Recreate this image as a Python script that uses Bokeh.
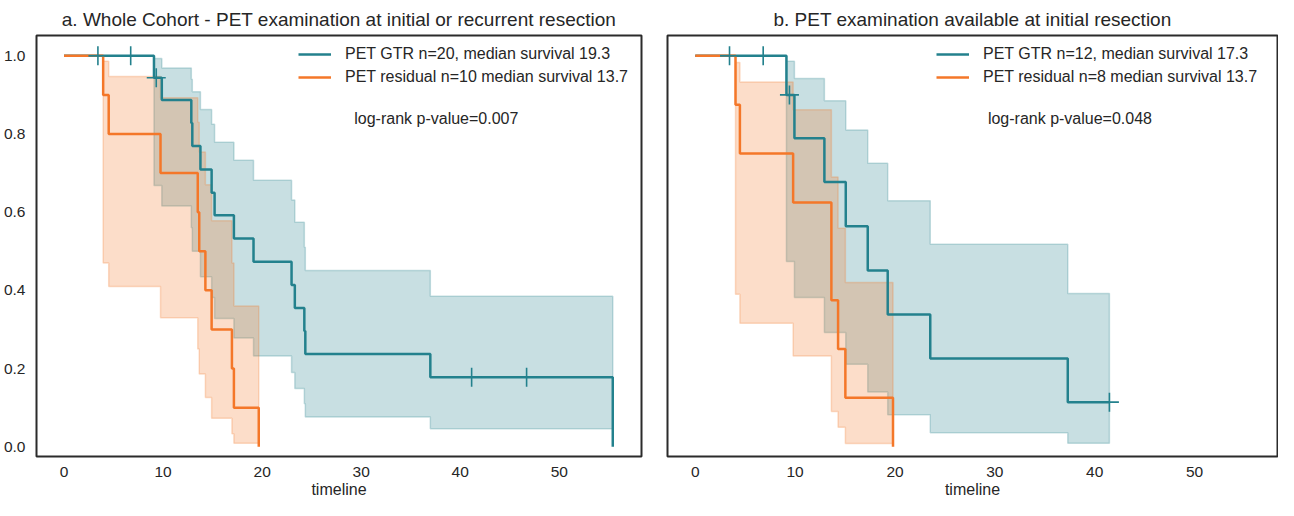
from bokeh.plotting import figure
from bokeh.models import Range1d, FixedTicker, PrintfTickFormatter, Legend, LegendItem, Label
from bokeh.layouts import row
from bokeh.embed import file_html
from bokeh.resources import INLINE

FONT = "Liberation Sans"
TEAL = "#23818d"
ORANGE = "#f47729"
TXT = "#262626"

# ---------------- data ----------------
titles = ["a. Whole Cohort - PET examination at initial or recurrent resection",
          "b. PET examination available at initial resection"]
pvalues = ["log-rank p-value=0.007", "log-rank p-value=0.048"]
x_ticks = [0, 10, 20, 30, 40, 50]
y_ticks = [0.0, 0.2, 0.4, 0.6, 0.8, 1.0]

# Panel a - PET GTR
a_gtr_label = "PET GTR n=20, median survival 19.3"
a_gtr_t = [0, 9.08, 9.87, 12.85, 12.95, 13.77, 14.9, 15.2, 17.15, 19.13, 22.97, 23.3, 24.26, 24.36, 36.98, 55.4]
a_gtr_s = [1.0, 0.944, 0.887, 0.828, 0.769, 0.709, 0.65, 0.592, 0.533, 0.473, 0.414, 0.355, 0.296, 0.237, 0.178, 0.0]
a_gtr_up = [1.0, 0.993, 0.969, 0.94, 0.908, 0.863, 0.825, 0.779, 0.733, 0.682, 0.631, 0.574, 0.51, 0.451, 0.385, 0.385]
a_gtr_lo = [1.0, 0.668, 0.616, 0.56, 0.5, 0.435, 0.382, 0.328, 0.278, 0.232, 0.19, 0.149, 0.11, 0.076, 0.046, 0.046]
a_gtr_cens_t = [3.42, 6.73, 9.31, 41.15, 46.7]
a_gtr_cens_s = [1.0, 1.0, 0.944, 0.178, 0.178]

# Panel a - PET residual
a_res_label = "PET residual n=10 median survival 13.7"
a_res_t = [0, 3.95, 4.51, 9.74, 13.5, 13.65, 14.27, 14.9, 16.95, 17.15, 19.66]
a_res_s = [1.0, 0.9, 0.8, 0.7, 0.6, 0.5, 0.4, 0.3, 0.2, 0.1, 0.0]
a_res_up = [1.0, 0.986, 0.947, 0.893, 0.83, 0.754, 0.67, 0.578, 0.47, 0.36, 0.36]
a_res_lo = [1.0, 0.47, 0.41, 0.33, 0.25, 0.186, 0.126, 0.073, 0.033, 0.009, 0.009]

# Panel b - PET GTR
b_gtr_label = "PET GTR n=12, median survival 17.3"
b_gtr_t = [0, 9.13, 9.93, 12.93, 15.07, 17.27, 19.27, 23.53, 37.3, 41.47]
b_gtr_s = [1.0, 0.9, 0.789, 0.677, 0.564, 0.451, 0.338, 0.226, 0.114, 0.114]
b_gtr_up = [1.0, 0.986, 0.942, 0.885, 0.81, 0.725, 0.629, 0.518, 0.392, 0.392]
b_gtr_lo = [1.0, 0.474, 0.382, 0.292, 0.211, 0.14, 0.082, 0.036, 0.009, 0.009]
b_gtr_cens_t = [3.43, 6.8, 9.43, 41.47]
b_gtr_cens_s = [1.0, 1.0, 0.9, 0.114]

# Panel b - PET residual
b_res_label = "PET residual n=8 median survival 13.7"
b_res_t = [0, 4.03, 4.47, 9.8, 13.63, 14.3, 15.03, 19.8]
b_res_s = [1.0, 0.875, 0.75, 0.625, 0.375, 0.25, 0.125, 0.0]
b_res_up = [1.0, 0.983, 0.933, 0.862, 0.69, 0.559, 0.42, 0.42]
b_res_lo = [1.0, 0.39, 0.316, 0.232, 0.09, 0.05, 0.008, 0.008]

FRAME_H = 430
TOP = 28
BOTTOM = 42


def band_polygon(t, up, lo):
    xs_u, ys_u, xs_l, ys_l = [], [], [], []
    for i in range(len(t) - 1):
        xs_u += [t[i], t[i + 1]]
        ys_u += [up[i], up[i]]
        xs_l += [t[i], t[i + 1]]
        ys_l += [lo[i], lo[i]]
    return xs_u + xs_l[::-1], ys_u + ys_l[::-1]


def make_panel(title, t1, s1, u1, l1, ct, cs, lab1, t2, s2, u2, l2, lab2, ptxt,
               show_y, fw, left_border, right_border, legend_x):
    p = figure(width=left_border + fw + right_border, height=TOP + FRAME_H + BOTTOM,
               output_backend="svg", toolbar_location=None,
               x_range=Range1d(-2.78, 58.3), y_range=Range1d(-0.025, 1.052),
               min_border_left=left_border, min_border_right=right_border,
               min_border_top=TOP, min_border_bottom=BOTTOM)
    p.title.text = title
    p.title.align = "center"
    p.title.text_font = FONT
    p.title.text_font_size = "19px"
    p.title.text_font_style = "normal"
    p.title.text_color = TXT
    p.title.standoff = 12
    p.outline_line_color = "#2b2b2b"
    p.outline_line_width = 2
    p.outline_line_alpha = 1
    p.xgrid.visible = False
    p.ygrid.visible = False
    p.background_fill_color = "white"
    p.border_fill_color = "white"

    for ax in [p.xaxis[0], p.yaxis[0]]:
        ax.axis_line_color = None
        ax.major_tick_line_color = None
        ax.minor_tick_line_color = None
        ax.major_label_text_font = FONT
        ax.major_label_text_font_size = "15.5px"
        ax.major_label_text_color = TXT
        ax.major_label_standoff = 5
    p.xaxis.ticker = FixedTicker(ticks=x_ticks)
    p.yaxis.ticker = FixedTicker(ticks=y_ticks)
    p.yaxis.formatter = PrintfTickFormatter(format="%.1f")
    p.xaxis.axis_label = "timeline"
    p.xaxis.axis_label_text_font = FONT
    p.xaxis.axis_label_text_font_size = "16px"
    p.xaxis.axis_label_text_font_style = "normal"
    p.xaxis.axis_label_text_color = TXT
    p.xaxis.axis_label_standoff = 1
    p.xaxis.major_label_standoff = 4
    if not show_y:
        p.yaxis.visible = False

    # confidence bands
    bx, by = band_polygon(t1, u1, l1)
    p.patch(bx, by, fill_color=TEAL, fill_alpha=0.25, line_color=TEAL, line_alpha=0.25, line_width=1.5)
    bx, by = band_polygon(t2, u2, l2)
    p.patch(bx, by, fill_color=ORANGE, fill_alpha=0.25, line_color=ORANGE, line_alpha=0.25, line_width=1.5)

    r1 = p.step(t1, s1, mode="after", line_color=TEAL, line_width=2.5)
    r2 = p.step(t2, s2, mode="after", line_color=ORANGE, line_width=2.5)
    p.scatter(ct, cs, marker="cross", size=19, line_color=TEAL, line_width=1.6)

    legend = Legend(items=[LegendItem(label=lab1, renderers=[r1]),
                           LegendItem(label=lab2, renderers=[r2])],
                    location=(legend_x, FRAME_H - 61), border_line_color=None, background_fill_alpha=0,
                    label_text_font=FONT, label_text_font_size="16px", label_text_color=TXT,
                    glyph_width=33, glyph_height=20, label_height=20, label_standoff=14,
                    spacing=3, padding=7, margin=0)
    p.add_layout(legend)

    p.add_layout(Label(x=29.3, y=0.84, text=ptxt, text_font=FONT, text_font_size="16px",
                       text_color=TXT, text_baseline="middle"))
    return p


p1 = make_panel(titles[0], a_gtr_t, a_gtr_s, a_gtr_up, a_gtr_lo, a_gtr_cens_t, a_gtr_cens_s, a_gtr_label,
                a_res_t, a_res_s, a_res_up, a_res_lo, a_res_label, pvalues[0],
                True, 613, 28, 2, 262)
p2 = make_panel(titles[1], b_gtr_t, b_gtr_s, b_gtr_up, b_gtr_lo, b_gtr_cens_t, b_gtr_cens_s, b_gtr_label,
                b_res_t, b_res_s, b_res_up, b_res_lo, b_res_label, pvalues[1],
                False, 610, 24, 1, 269)

layout = row(p1, p2)
open("out.html", "w").write(file_html(layout, INLINE))
